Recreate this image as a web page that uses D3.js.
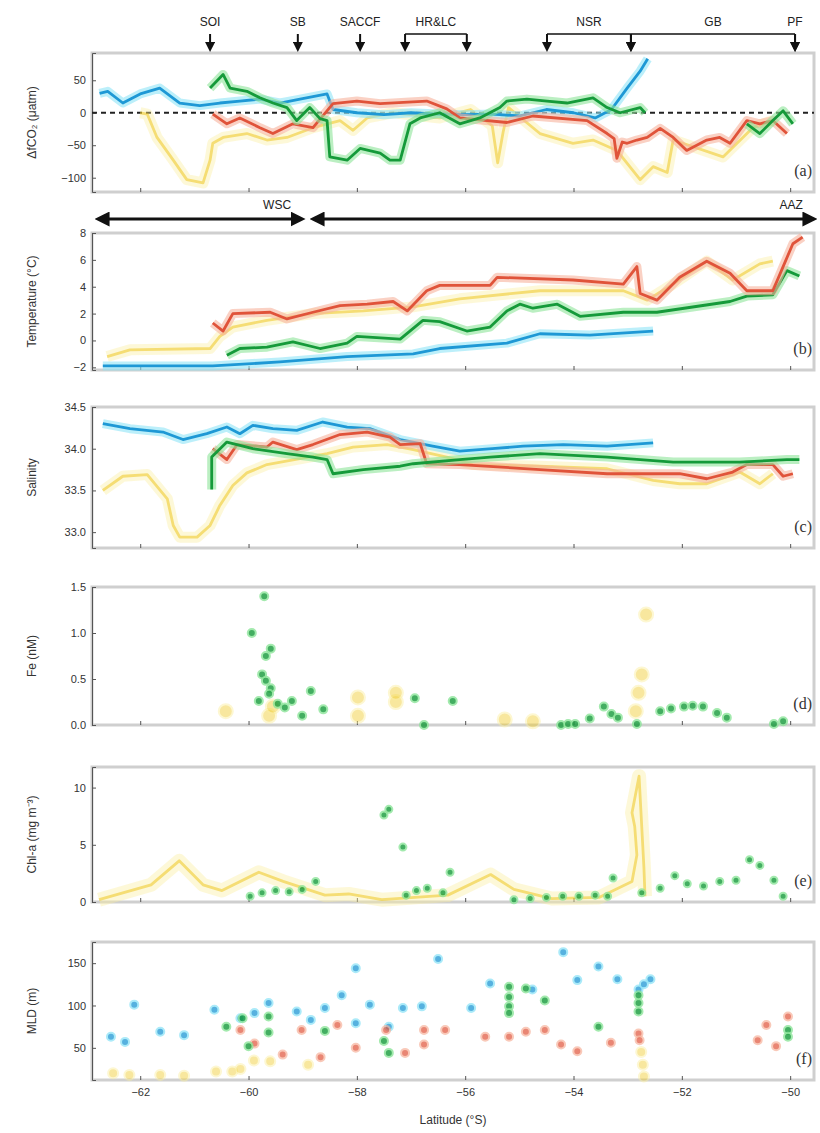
<!DOCTYPE html>
<html>
<head>
<meta charset="utf-8">
<script src="https://cdn.jsdelivr.net/npm/d3@7"></script>
<style>
  body { margin: 0; background: #fff; }
  svg { font-family: "Liberation Sans", Arial, sans-serif; }
  .tick text { font-size: 11px; fill: #333; }
  .axis path, .axis line { stroke: #555; }
</style>
</head>
<body>
<svg width="820" height="1133"></svg>
<script>
// latitude ticks and fronts
var latTicks = [-62, -60, -58, -56, -54, -52, -50];
var frontNames = ['SOI', 'SB', 'SACCF', 'HR&LC', 'NSR', 'GB', 'PF'];
var frontLats = [[-60.71], [-59.09], [-57.94], [-57.11, -55.97], [-54.49, -52.94], [-52.94, -49.91], [-49.91]];
var zoneNames = ['WSC', 'AAZ'];
var zoneLats = [[-62.76, -59.03], [-58.79, -49.58]];

// (a) dfCO2
var fco2Blue = [[-62.75,30],[-62.6,33],[-62.32,15],[-62.0,29],[-61.64,38],[-61.27,15],[-60.9,11],[-60.53,15],[-60.16,18],[-59.79,21],[-59.42,15],[-59.05,21],[-58.55,29],[-58.44,5],[-58.0,0],[-57.5,-3],[-57.0,0],[-56.5,-2],[-56.0,-3],[-55.5,-2],[-55.0,-5],[-54.5,5],[-54.0,0],[-53.6,-8],[-53.3,5],[-53.01,38],[-52.77,64],[-52.63,83]];
var fco2Green = [[-60.71,38],[-60.47,59],[-60.34,38],[-60.03,33],[-59.79,23],[-59.55,15],[-59.29,8],[-59.11,-12],[-58.87,8],[-58.68,-9],[-58.55,-12],[-58.5,-68],[-58.18,-73],[-57.94,-55],[-57.57,-62],[-57.39,-73],[-57.2,-73],[-57.02,-17],[-56.83,-8],[-56.47,0],[-56.1,-17],[-55.73,-8],[-55.36,8],[-55.23,18],[-54.86,21],[-54.49,18],[-54.12,15],[-53.64,23],[-53.38,8],[-53.14,0],[-52.77,8],[-52.68,0]];
var fco2GreenEnd = [[-50.8,-17],[-50.56,-32],[-50.32,-12],[-50.13,3],[-49.95,-17]];
var fco2Red = [[-60.66,-2],[-60.4,-17],[-60.16,-8],[-59.79,-23],[-59.55,-32],[-59.18,-17],[-58.81,-23],[-58.44,14],[-58.0,18],[-57.57,14],[-56.71,18],[-56.34,6],[-56.1,-8],[-55.23,-15],[-54.75,-5],[-53.75,-12],[-53.38,-32],[-53.25,-40],[-53.2,-70],[-53.1,-45],[-53.01,-47],[-52.83,-42],[-52.64,-38],[-52.4,-24],[-52.16,-38],[-51.91,-58],[-51.54,-42],[-51.3,-38],[-51.11,-47],[-50.8,-12],[-50.56,-17],[-50.32,-12],[-50.06,-32]];
var fco2Yellow = [[-62.0,0],[-61.87,-2],[-61.69,-38],[-61.39,-73],[-61.14,-103],[-60.84,-108],[-60.71,-73],[-60.66,-47],[-60.47,-38],[-60.03,-32],[-59.66,-42],[-59.29,-38],[-58.81,-23],[-58.31,-12],[-58.07,-27],[-57.81,-8],[-57.33,0],[-56.47,-8],[-55.9,5],[-55.5,-20],[-55.4,-77],[-55.3,-30],[-55.2,8],[-54.62,-32],[-54.01,-47],[-53.64,-42],[-53.2,-58],[-52.77,-103],[-52.53,-83],[-52.27,-92],[-52.16,-42],[-51.24,-68],[-50.69,-23],[-50.32,-12]];

// (b) temperature
var tempBlue = [[-62.69,-1.9],[-61.5,-1.9],[-60.66,-1.9],[-59.42,-1.6],[-58.18,-1.2],[-56.96,-1.0],[-56.47,-0.6],[-55.23,-0.2],[-54.62,0.5],[-53.7,0.4],[-52.53,0.7]];
var tempGreen = [[-60.4,-1.1],[-60.16,-0.6],[-59.66,-0.5],[-59.18,-0.1],[-58.68,-0.6],[-58.18,-0.2],[-58.0,0.3],[-57.2,0.1],[-56.78,1.5],[-56.47,1.4],[-55.97,0.7],[-55.54,1.0],[-55.23,2.2],[-54.99,2.7],[-54.75,2.4],[-54.3,2.7],[-53.88,1.8],[-53.08,2.1],[-52.46,2.1],[-51.11,2.9],[-50.8,3.3],[-50.32,3.4],[-50.06,5.2],[-49.83,4.8]];
var tempRed = [[-60.66,1.3],[-60.47,0.7],[-60.29,2.0],[-59.6,2.1],[-59.29,1.6],[-58.81,2.1],[-58.31,2.6],[-57.81,2.7],[-57.33,2.9],[-57.07,2.2],[-56.71,3.7],[-56.47,4.1],[-55.54,4.1],[-55.41,4.7],[-54.01,4.5],[-53.08,4.2],[-52.83,5.5],[-52.77,3.5],[-52.46,3.0],[-52.04,4.7],[-51.54,5.9],[-51.11,5.0],[-50.8,3.7],[-50.32,3.7],[-50.13,5.5],[-49.95,7.2],[-49.77,7.7]];
var tempYellow = [[-62.61,-1.2],[-62.19,-0.7],[-60.71,-0.6],[-60.53,0.3],[-60.29,1.0],[-59.66,1.5],[-58.81,2.0],[-57.88,2.2],[-56.96,2.5],[-56.1,3.1],[-54.62,3.7],[-53.08,3.7],[-52.64,3.0],[-52.16,4.2],[-51.54,5.9],[-51.06,4.5],[-50.56,5.7],[-50.32,5.9]];

// (c) salinity
var salBlue = [[-62.69,34.3],[-62.19,34.24],[-61.58,34.2],[-61.21,34.11],[-60.77,34.18],[-60.4,34.26],[-60.16,34.18],[-59.92,34.28],[-59.55,34.24],[-59.11,34.22],[-58.63,34.32],[-58.18,34.26],[-57.76,34.24],[-57.2,34.11],[-56.6,34.03],[-56.1,33.97],[-55.5,34.0],[-54.93,34.03],[-54.19,34.05],[-53.38,34.03],[-52.53,34.07]];
var salGreen = [[-60.68,33.51],[-60.68,33.9],[-60.4,34.08],[-59.92,34.0],[-59.29,33.94],[-58.81,33.9],[-58.55,33.87],[-58.44,33.7],[-57.88,33.75],[-57.2,33.79],[-56.96,33.82],[-56.1,33.87],[-55.54,33.9],[-54.62,33.94],[-53.38,33.9],[-52.16,33.84],[-50.93,33.84],[-50.06,33.87],[-49.83,33.87]];
var salRed = [[-60.66,34.0],[-60.4,33.87],[-60.21,34.05],[-59.66,34.02],[-59.55,34.08],[-59.11,33.99],[-58.81,34.05],[-58.31,34.17],[-57.81,34.2],[-57.39,34.14],[-57.2,34.05],[-56.83,34.06],[-56.71,33.82],[-56.1,33.81],[-54.62,33.75],[-53.38,33.7],[-52.77,33.7],[-52.04,33.7],[-51.54,33.64],[-51.06,33.72],[-50.8,33.81],[-50.32,33.81],[-50.13,33.67],[-49.95,33.7]];
var salYellow = [[-62.69,33.5],[-62.32,33.67],[-61.87,33.69],[-61.5,33.4],[-61.39,33.08],[-61.27,32.94],[-60.95,32.94],[-60.71,33.08],[-60.53,33.32],[-60.29,33.56],[-60.03,33.71],[-59.66,33.81],[-59.05,33.88],[-58.55,33.94],[-58.07,34.02],[-57.44,34.05],[-56.96,33.99],[-56.34,33.9],[-55.86,33.81],[-54.62,33.79],[-53.38,33.76],[-52.53,33.62],[-52.04,33.58],[-51.54,33.58],[-50.93,33.72],[-50.56,33.58],[-50.32,33.7]];

// (d) Fe
var feGreen = [[-59.71,1.4],[-59.94,1.0],[-59.59,0.83],[-59.68,0.75],[-59.75,0.55],[-59.68,0.48],[-59.59,0.4],[-59.62,0.34],[-59.81,0.26],[-59.46,0.23],[-59.2,0.26],[-59.33,0.19],[-58.85,0.37],[-59.01,0.1],[-58.62,0.17],[-56.93,0.29],[-56.23,0.26],[-56.76,0.0],[-54.23,0.0],[-54.1,0.01],[-53.97,0.01],[-53.7,0.07],[-53.44,0.2],[-53.3,0.12],[-53.18,0.08],[-52.83,0.01],[-52.4,0.15],[-52.2,0.18],[-51.96,0.2],[-51.8,0.21],[-51.61,0.2],[-51.35,0.13],[-51.17,0.08],[-50.3,0.01],[-50.13,0.04]];
var feYellow = [[-60.42,0.15],[-59.62,0.1],[-59.55,0.2],[-57.98,0.1],[-57.98,0.3],[-57.28,0.25],[-57.28,0.35],[-55.27,0.06],[-54.75,0.04],[-52.74,0.55],[-52.8,0.35],[-52.85,0.15],[-52.66,1.2]];

// (e) Chl-a
var chlGreen = [[-57.5,7.6],[-57.41,8.1],[-57.15,4.8],[-56.28,2.6],[-58.76,1.8],[-59.97,0.5],[-59.75,0.8],[-59.5,1.0],[-59.25,0.9],[-59.01,1.1],[-57.09,0.6],[-56.9,1.0],[-56.7,1.2],[-56.41,0.8],[-55.1,0.2],[-54.8,0.3],[-54.5,0.4],[-54.2,0.5],[-53.9,0.5],[-53.6,0.6],[-53.37,0.5],[-53.27,2.1],[-52.74,0.8],[-52.4,1.2],[-52.13,2.3],[-51.9,1.6],[-51.6,1.4],[-51.3,1.8],[-51.0,1.9],[-50.75,3.7],[-50.56,3.2],[-50.3,1.9],[-50.13,0.5]];
var chlYellow = [[-62.76,0.2],[-61.8,1.5],[-61.28,3.6],[-60.84,1.5],[-60.49,1.0],[-59.81,2.6],[-59.36,1.8],[-58.59,0.6],[-58.15,0.7],[-57.54,0.2],[-56.32,0.6],[-55.53,2.4],[-55.1,1.1],[-54.4,0.3],[-53.53,0.4],[-52.92,1.8],[-52.83,4.1],[-52.87,6.6],[-52.92,7.8],[-52.79,11],[-52.7,3.0],[-52.68,0.5]];

// (f) MLD
var mldBlue = [[-62.54,63],[-62.28,57],[-62.11,101],[-61.63,69],[-61.19,65],[-60.63,95],[-60.15,85],[-59.89,91],[-59.63,103],[-59.11,93],[-58.85,83],[-58.59,97],[-58.28,112],[-58.02,144],[-57.76,101],[-58.02,79],[-57.41,75],[-57.15,97],[-56.8,99],[-56.5,155],[-55.89,97],[-55.54,126],[-54.76,119],[-54.19,163],[-53.93,130],[-53.54,146],[-53.19,131],[-52.8,119],[-52.58,131],[-52.7,125]];
var mldGreen = [[-60.41,75],[-60.11,85],[-60.0,52],[-59.63,68],[-59.63,87],[-58.59,70],[-57.5,58],[-57.41,44],[-55.19,122],[-55.19,110],[-55.19,99],[-55.19,91],[-54.88,120],[-54.53,106],[-53.54,75],[-52.8,103],[-52.8,93],[-52.8,112],[-50.04,71],[-50.04,63]];
var mldRed = [[-60.15,71],[-59.89,55],[-59.37,42],[-59.02,71],[-58.67,39],[-58.36,77],[-58.02,50],[-57.46,71],[-57.11,44],[-56.76,54],[-56.76,71],[-56.37,71],[-55.63,63],[-55.19,63],[-54.88,69],[-54.53,71],[-54.23,54],[-53.93,46],[-53.31,56],[-52.8,67],[-52.78,59],[-50.6,59],[-50.44,77],[-50.26,52],[-50.04,87]];
var mldYellow = [[-62.5,20],[-62.2,18],[-61.63,18],[-61.19,17],[-60.6,22],[-60.3,22],[-60.15,25],[-59.9,35],[-59.6,34],[-58.9,30],[-52.75,45],[-52.72,30],[-52.7,16]];

var colors = {
  blue: ['#1e98d5', '#8fe4f7'],
  green: ['#159a3a', '#8de59a'],
  red: ['#e0533a', '#f7b39c'],
  yellow: ['#f0cc2a', '#fbee9c']
};

var svg = d3.select('svg');
var x = d3.scaleLinear().domain([-62.89, -49.56]).range([92, 814]);

var panels = [
  {id: 'a', top: 53, bottom: 192, domain: [-122, 92], ticks: [-100, -50, 0, 50], fmt: d3.format('d'), label: 'ΔfCO₂ (μatm)'},
  {id: 'b', top: 233, bottom: 370, domain: [-2.2, 8], ticks: [-2, 0, 2, 4, 6, 8], fmt: d3.format('d'), label: 'Temperature (°C)'},
  {id: 'c', top: 407, bottom: 548, domain: [32.81, 34.5], ticks: [33, 33.5, 34, 34.5], fmt: d3.format('.1f'), label: 'Salinity'},
  {id: 'd', top: 587, bottom: 725, domain: [0, 1.5], ticks: [0, 0.5, 1, 1.5], fmt: d3.format('.1f'), label: 'Fe (nM)'},
  {id: 'e', top: 767, bottom: 902, domain: [0, 11.8], ticks: [0, 5, 10], fmt: d3.format('d'), label: 'Chl-a (mg m⁻³)'},
  {id: 'f', top: 942, bottom: 1080, domain: [12, 175], ticks: [50, 100, 150], fmt: d3.format('d'), label: 'MLD (m)'}
];

panels.forEach(p => {
  p.y = d3.scaleLinear().domain(p.domain).range([p.bottom, p.top]);
  var g = svg.append('g').attr('class', 'panel-' + p.id);

  g.append('rect')
    .attr('x', x.range()[0]).attr('y', p.top)
    .attr('width', x.range()[1] - x.range()[0]).attr('height', p.bottom - p.top)
    .attr('fill', 'none').attr('stroke', '#cfcfcf').attr('stroke-width', 3);

  g.append('g')
    .attr('class', 'axis')
    .attr('transform', 'translate(' + x.range()[0] + ',0)')
    .call(d3.axisLeft(p.y).tickValues(p.ticks).tickFormat(p.fmt).tickSize(-4).tickPadding(6))
    .call(a => a.select('.domain').attr('stroke', '#888'));

  g.append('g')
    .attr('class', 'axis')
    .attr('transform', 'translate(0,' + p.bottom + ')')
    .call(d3.axisBottom(x).tickValues(latTicks).tickFormat(p.id === 'f' ? d3.format('d') : '').tickSize(-4).tickPadding(8))
    .call(a => a.select('.domain').remove())
    .call(a => a.selectAll('line').attr('stroke', '#888'));

  g.append('text')
    .attr('transform', 'translate(36,' + (p.top + p.bottom) / 2 + ') rotate(-90)')
    .attr('text-anchor', 'middle')
    .attr('font-size', 12).attr('fill', '#333')
    .text(p.label);

  g.append('text')
    .attr('x', 812).attr('y', p.bottom - 16)
    .attr('text-anchor', 'end')
    .attr('font-family', '"Liberation Serif", serif')
    .attr('font-size', 16).attr('fill', '#333')
    .text('(' + p.id + ')');
});

var P = {};
panels.forEach(p => P[p.id] = p);

function drawLine(p, data, color, yellow, halo) {
  var line = d3.line().x(d => x(d[0])).y(d => p.y(d[1]));
  var g = svg.append('g').attr('opacity', yellow ? 0.65 : 1);
  g.append('path').datum(data)
    .attr('d', line).attr('fill', 'none')
    .attr('stroke', colors[color][1]).attr('stroke-width', halo || 9)
    .attr('stroke-linejoin', 'round').attr('opacity', 0.6);
  g.append('path').datum(data)
    .attr('d', line).attr('fill', 'none')
    .attr('stroke', colors[color][0]).attr('stroke-width', 2.8)
    .attr('stroke-linejoin', 'round');
}

function drawDots(p, data, color, r, op) {
  svg.append('g')
    .selectAll('circle')
    .data(data)
    .enter()
    .append('circle')
      .attr('cx', d => x(d[0]))
      .attr('cy', d => p.y(d[1]))
      .attr('r', r)
      .attr('fill', colors[color][0])
      .attr('stroke', colors[color][1])
      .attr('stroke-width', 2)
      .attr('opacity', op);
}

// (a)
svg.append('line')
  .attr('x1', x.range()[0]).attr('x2', x.range()[1])
  .attr('y1', P.a.y(0)).attr('y2', P.a.y(0))
  .attr('stroke', '#222').attr('stroke-width', 2).attr('stroke-dasharray', '5,4');
drawLine(P.a, fco2Yellow, 'yellow', true, 11);
drawLine(P.a, fco2Blue, 'blue');
drawLine(P.a, fco2Red, 'red');
drawLine(P.a, fco2Green, 'green');
drawLine(P.a, fco2GreenEnd, 'green');

// (b)
drawLine(P.b, tempYellow, 'yellow', true, 11);
drawLine(P.b, tempBlue, 'blue');
drawLine(P.b, tempGreen, 'green');
drawLine(P.b, tempRed, 'red');

// (c)
drawLine(P.c, salYellow, 'yellow', true, 11);
drawLine(P.c, salBlue, 'blue');
drawLine(P.c, salRed, 'red');
drawLine(P.c, salGreen, 'green');

// (d)
drawDots(P.d, feYellow, 'yellow', 7, 0.45);
drawDots(P.d, feGreen, 'green', 4, 0.8);

// (e)
drawLine(P.e, chlYellow, 'yellow', true, 14);
drawDots(P.e, chlGreen, 'green', 3.5, 0.8);

// (f)
drawDots(P.f, mldYellow, 'yellow', 5, 0.45);
drawDots(P.f, mldBlue, 'blue', 4, 0.75);
drawDots(P.f, mldRed, 'red', 4, 0.7);
drawDots(P.f, mldGreen, 'green', 4, 0.8);

svg.append('text')
  .attr('x', (x.range()[0] + x.range()[1]) / 2).attr('y', 1124)
  .attr('text-anchor', 'middle').attr('font-size', 12).attr('fill', '#333')
  .text('Latitude (°S)');

// fronts on top
svg.append('defs').append('marker')
  .attr('id', 'arr').attr('viewBox', '0 0 10 10')
  .attr('refX', 5).attr('refY', 5)
  .attr('markerWidth', 5).attr('markerHeight', 5)
  .attr('orient', 'auto-start-reverse')
  .append('path').attr('d', 'M0,0L10,5L0,10z').attr('fill', '#111');

var fronts = svg.append('g');
frontLats.forEach((lats, i) => {
  lats.forEach(l => {
    fronts.append('line')
      .attr('x1', x(l)).attr('x2', x(l))
      .attr('y1', 34).attr('y2', 47)
      .attr('stroke', '#111').attr('stroke-width', 2)
      .attr('marker-end', 'url(#arr)');
  });
  if (lats.length > 1) {
    fronts.append('line')
      .attr('x1', x(lats[0])).attr('x2', x(lats[1]))
      .attr('y1', 34).attr('y2', 34)
      .attr('stroke', '#111').attr('stroke-width', 1.5);
  }
  fronts.append('text')
    .attr('x', x(d3.mean(lats)))
    .attr('y', 26)
    .attr('text-anchor', 'middle')
    .attr('font-size', 12).attr('fill', '#222')
    .text(frontNames[i]);
});

var zones = svg.append('g');
zoneLats.forEach((lats, i) => {
  zones.append('line')
    .attr('x1', x(lats[0]) + 3).attr('x2', x(lats[1]) - 3)
    .attr('y1', 219).attr('y2', 219)
    .attr('stroke', '#111').attr('stroke-width', 3)
    .attr('marker-start', 'url(#arr)').attr('marker-end', 'url(#arr)');
  zones.append('text')
    .attr('x', x(lats[1]) - 10).attr('y', 209)
    .attr('text-anchor', 'end')
    .attr('font-size', 12).attr('fill', '#222')
    .text(zoneNames[i]);
});
</script>
</body>
</html>
